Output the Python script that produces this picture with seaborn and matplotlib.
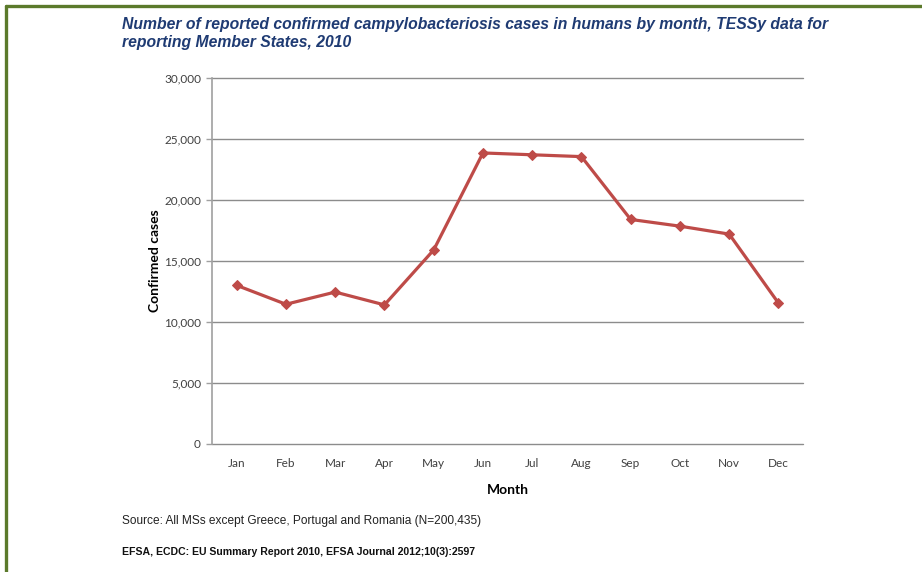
import pandas as pd
import matplotlib.pyplot as plt
import seaborn as sns

## Data ##
months = ["Jan", "Feb", "Mar", "Apr", "May", "Jun",
          "Jul", "Aug", "Sep", "Oct", "Nov", "Dec"]
cases = [13000, 11450, 12450, 11400, 15900, 23850,
         23700, 23550, 18400, 17850, 17200, 11550]
y_ticks = [0, 5000, 10000, 15000, 20000, 25000, 30000]

df = pd.DataFrame({"Month": months, "Confirmed cases": cases})
df["pos"] = range(len(months))

sns.set_theme(style="white")
plt.rcParams["font.family"] = ["Lato", "DejaVu Sans"]

fig = plt.figure(figsize=(9.22, 5.72), dpi=100)
ax = fig.add_axes([0.23, 0.2238, 0.641, 0.64])

sns.lineplot(data=df, x="pos", y="Confirmed cases", ax=ax,
             color="#be4b48", linewidth=2.3, marker="D",
             markersize=5.5, markeredgecolor="#be4b48")

ax.set_xlim(-0.5, 11.5)
ax.set_ylim(0, 30000)
ax.set_yticks(y_ticks)
ax.set_yticklabels(["{:,}".format(v) for v in y_ticks])
ax.set_xticks(range(len(months)))
ax.set_xticklabels(months)
ax.yaxis.grid(True, color="#8c8c8c", linewidth=1)
for gl in ax.yaxis.get_gridlines():
    gl.set_clip_on(False)
ax.set_axisbelow(True)
for s in ["top", "right", "bottom"]:
    ax.spines[s].set_visible(False)
ax.spines["left"].set_color("#a0a0a0")
ax.spines["left"].set_linewidth(1.2)
ax.tick_params(axis="y", length=4, color="#a0a0a0", width=1,
               labelsize=8.5, labelcolor="#404040", pad=4, left=True)
ax.tick_params(axis="x", length=0, labelsize=8.5, labelcolor="#404040", pad=10)

ax.set_xlabel("Month", fontsize=10, fontweight="bold", color="black", labelpad=11)
ax.set_ylabel("Confirmed cases", fontsize=10, fontweight="bold", color="black", labelpad=2)

title_font = ["Liberation Sans Narrow", "Liberation Sans", "DejaVu Sans"]
fig.text(122 / 922, 1 - 25 / 572,
         "Number of reported confirmed campylobacteriosis cases in humans by month, TESSy data for",
         family=title_font, fontsize=11.3, fontweight="bold", style="italic",
         color="#1f3b73", va="center", ha="left")
fig.text(122 / 922, 1 - 43 / 572, "reporting Member States, 2010",
         family=title_font, fontsize=11.3, fontweight="bold", style="italic",
         color="#1f3b73", va="center", ha="left")

fig.text(122 / 922, 1 - 521 / 572,
         "Source: All MSs except Greece, Portugal and Romania (N=200,435)",
         family=title_font, fontsize=8.6, color="#222222", va="center", ha="left")
fig.text(122 / 922, 1 - 552 / 572,
         "EFSA, ECDC: EU Summary Report 2010, EFSA Journal 2012;10(3):2597",
         family=title_font, fontsize=7.6, fontweight="bold", color="#111111",
         va="center", ha="left")

# green frame (top and left)
fig.add_artist(plt.Line2D([6 / 922, 1.0], [1 - 6 / 572, 1 - 6 / 572],
                          transform=fig.transFigure, color="#5b7a2b", linewidth=2.4))
fig.add_artist(plt.Line2D([6 / 922, 6 / 922], [0.0, 1 - 6 / 572],
                          transform=fig.transFigure, color="#5b7a2b", linewidth=2.4))

fig.savefig("out.png", dpi=100)
